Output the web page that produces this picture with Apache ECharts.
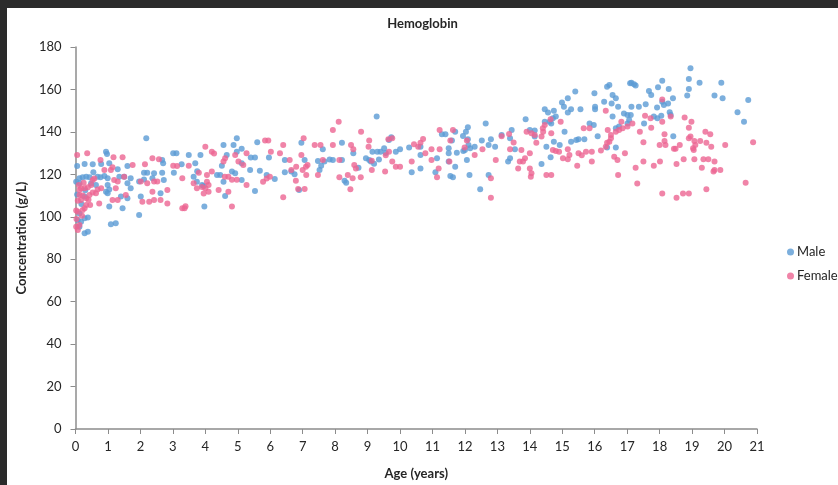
<!DOCTYPE html>
<html>
<head>
<meta charset="utf-8">
<script src="https://cdn.jsdelivr.net/npm/echarts@6/dist/echarts.min.js"></script>
<style>
  html, body { margin: 0; padding: 0; background: #2b2b2b; width: 838px; height: 485px; overflow: hidden; }
  #chart { position: absolute; left: 7px; top: 8px; width: 831px; height: 477px; background: #ffffff; }
</style>
</head>
<body>
<div id="chart"></div>
<script>
// Hemoglobin concentration (g/L) by age (years)
const malePoints = [
  [0.94,130.7],[0.97,129.6],[2.18,137.0],[2.67,126.8],[2.70,125.2],[3.01,129.9],[3.11,129.9],[3.27,124.7],
  [0.05,123.9],[0.28,124.9],[0.53,124.7],[0.79,124.9],[1.04,125.2],[1.30,122.4],[1.60,123.9],[2.11,120.8],
  [2.21,120.8],[2.42,120.5],[2.67,120.8],[3.03,120.8],[0.12,118.1],[0.22,118.6],[0.33,118.9],[0.43,118.6],
  [0.68,118.9],[0.77,118.6],[0.89,119.2],[0.99,118.1],[1.35,118.9],[1.50,118.9],[1.70,118.1],[1.96,116.6],
  [2.11,117.6],[2.37,118.1],[2.72,117.3],[0.12,115.8],[0.48,115.8],[0.63,115.0],[0.99,115.0],[1.04,112.9],
  [1.60,115.8],[1.70,113.4],[2.62,111.1],[0.94,111.8],[0.28,109.5],[0.99,111.1],[1.40,109.5],[1.60,108.7],
  [2.01,109.5],[1.04,104.8],[1.45,104.0],[0.12,101.6],[1.96,100.8],[1.09,96.5],[1.24,96.9],[0.07,98.5],
  [0.17,97.7],[0.28,99.3],[0.38,99.7],[0.12,95.3],[0.28,92.2],[0.38,93.0],[0.05,110.5],[0.18,106.0],
  [0.30,112.5],[0.02,116.5],[0.55,121.0],
  [4.97,137.0],[4.56,133.8],[4.87,133.8],[5.60,135.1],[3.49,129.1],[3.85,129.1],[4.66,129.1],[4.97,130.7],
  [5.12,132.0],[5.40,127.9],[5.53,127.9],[5.96,127.9],[6.45,126.8],[3.69,125.2],[3.75,121.5],[4.51,124.0],
  [5.12,125.2],[5.38,122.0],[5.68,121.7],[4.82,121.3],[4.92,120.5],[4.36,119.7],[4.46,119.7],[5.89,119.7],
  [6.14,117.8],[6.45,121.0],[6.65,121.3],[3.64,118.9],[3.74,116.5],[4.56,116.5],[5.12,117.3],[3.90,115.0],
  [3.95,114.5],[5.53,112.2],[4.61,109.8],[3.97,104.8],
  [9.28,147.2],[8.21,134.9],[6.96,134.9],[8.56,129.9],[7.62,131.8],[7.47,126.3],[7.67,126.0],[7.83,127.0],
  [7.93,126.8],[8.21,126.8],[7.06,126.8],[7.57,124.0],[7.52,122.0],[8.95,127.6],[9.05,126.8],[9.15,130.7],
  [9.30,130.7],[9.40,130.7],[9.51,132.3],[9.56,130.0],[9.66,136.2],[9.73,137.5],[9.87,130.7],[10.00,131.8],
  [9.10,126.0],[9.20,125.0],[9.35,127.0],[8.72,123.1],[8.29,117.0],[8.34,116.0],[6.89,112.6],[6.75,120.0],
  [12.64,144.0],[12.09,142.2],[12.03,140.1],[11.94,138.1],[11.29,138.9],[11.40,138.9],[11.70,140.1],[11.60,135.9],
  [12.09,136.5],[12.52,135.9],[12.80,136.5],[13.13,138.5],[13.39,137.0],[10.28,132.7],[10.63,133.0],[11.50,132.3],
  [12.11,133.8],[12.16,132.3],[12.30,133.0],[12.73,133.8],[12.93,133.0],[12.00,131.5],[11.95,131.0],[11.75,130.2],
  [11.50,129.9],[11.14,127.6],[10.63,129.1],[12.06,126.8],[11.50,126.0],[13.33,126.0],[13.39,127.6],[10.63,122.8],
  [11.70,123.6],[10.36,121.0],[11.09,121.0],[11.55,119.2],[11.63,118.6],[12.14,119.7],[12.73,119.7],[12.47,113.0],
  [16.38,161.3],[16.45,162.1],[17.09,162.9],[15.40,159.0],[15.99,158.2],[16.55,157.4],[16.65,155.8],[15.17,155.8],
  [14.99,153.8],[15.05,151.9],[16.29,154.2],[16.01,151.9],[16.01,150.7],[16.72,151.9],[14.46,150.7],[14.56,149.1],
  [14.74,150.0],[15.27,150.7],[15.17,149.1],[15.56,150.7],[16.52,153.4],[16.90,148.7],[17.01,148.0],[13.87,146.0],
  [14.46,144.8],[14.61,144.8],[14.71,146.4],[14.80,147.2],[16.55,147.2],[15.84,144.0],[15.97,143.3],[17.06,145.6],
  [17.01,144.0],[16.65,141.7],[16.75,142.5],[14.15,140.6],[14.00,140.9],[13.44,140.9],[14.66,144.0],[15.07,140.1],
  [16.09,138.0],[15.50,136.5],[15.43,136.2],[15.27,135.4],[15.68,136.5],[14.74,135.4],[14.15,137.8],[14.51,133.0],
  [14.92,133.8],[16.38,132.7],[16.65,132.7],[13.54,131.8],[14.64,128.0],[14.36,124.9],
  [18.95,170.0],[18.90,164.9],[19.23,163.2],[19.90,163.2],[18.08,164.1],[17.13,163.2],[17.21,162.4],[17.26,161.8],
  [17.67,159.3],[17.74,157.4],[17.95,161.0],[18.28,160.2],[18.90,160.2],[18.85,157.1],[19.69,157.1],[19.94,155.8],
  [20.73,155.0],[18.41,155.8],[18.08,154.2],[17.92,151.5],[18.13,152.7],[18.26,153.4],[17.57,153.0],[17.36,151.9],
  [17.13,151.9],[20.40,149.2],[20.60,144.8],[18.31,149.2],[18.34,148.0],[18.05,147.6],[17.93,146.4],[17.82,147.2],
  [17.52,144.0],[17.11,148.0],[18.42,138.0]
];

const femalePoints = [
  [0.05,129.1],[0.36,129.9],[0.77,126.8],[1.17,128.0],[1.45,128.0],[2.37,127.6],[2.57,127.1],[3.01,124.1],
  [3.13,123.9],[0.89,122.1],[1.14,123.3],[1.09,122.1],[1.76,124.4],[2.14,124.7],[3.29,118.1],[0.53,117.3],
  [1.19,117.3],[1.30,116.6],[1.50,118.9],[2.01,116.6],[2.21,115.8],[2.42,116.6],[2.52,116.6],[0.12,112.6],
  [0.17,113.4],[0.28,113.4],[0.38,113.9],[0.48,115.0],[0.68,112.9],[0.79,113.4],[1.24,113.4],[1.55,110.3],
  [2.83,112.6],[2.37,111.8],[0.12,110.3],[0.17,107.9],[0.07,107.6],[0.33,108.7],[0.43,110.3],[0.53,111.4],
  [0.63,111.1],[0.73,106.3],[1.14,107.9],[1.30,107.9],[2.06,107.1],[2.27,107.1],[2.42,107.9],[2.62,107.9],
  [2.83,106.3],[3.29,104.0],[0.07,102.4],[0.22,103.2],[0.28,104.0],[0.33,105.6],[0.12,96.1],[0.02,95.3],
  [0.07,93.8],[0.02,103.0],[0.10,115.0],[0.22,110.0],[0.25,116.0],[0.40,108.0],[0.45,105.5],[0.03,99.0],
  [0.58,118.0],[0.20,100.5],
  [5.84,135.9],[5.94,135.9],[6.40,133.8],[4.00,133.0],[4.20,130.7],[4.27,129.8],[4.61,127.6],[4.56,126.0],
  [4.92,129.1],[5.27,129.9],[5.02,126.0],[5.17,124.4],[6.02,130.7],[6.30,129.9],[6.60,126.8],[3.49,124.0],
  [3.80,120.8],[4.05,119.7],[4.20,121.3],[4.71,118.9],[4.82,117.5],[4.97,117.5],[4.60,118.9],[4.05,116.5],
  [4.10,115.0],[3.90,114.0],[4.00,113.5],[4.10,111.8],[3.95,111.0],[4.41,112.6],[4.71,111.8],[5.27,115.0],
  [5.78,116.5],[5.89,118.0],[5.99,118.9],[6.65,122.0],[6.40,109.2],[4.82,104.8],[3.39,105.0],[3.36,104.0],
  [3.64,115.8],[3.74,113.5],
  [8.11,144.8],[7.93,140.9],[8.80,140.1],[7.03,137.0],[7.37,133.8],[7.55,133.8],[7.93,133.8],[8.49,133.8],
  [8.56,131.8],[9.05,135.9],[9.03,133.0],[9.64,136.5],[9.76,137.0],[6.96,129.1],[7.62,126.8],[8.13,126.8],
  [8.59,124.4],[8.64,122.8],[9.13,126.4],[9.56,129.0],[9.66,130.7],[9.76,126.0],[9.87,123.6],[10.00,123.6],
  [6.80,123.6],[7.00,122.0],[7.10,123.6],[7.15,124.4],[7.11,119.7],[6.79,117.0],[7.47,119.7],[8.13,118.6],
  [8.39,119.7],[8.54,118.1],[8.79,118.6],[9.13,122.0],[9.54,121.3],[6.86,113.1],[7.06,113.1],[8.47,113.0],
  [11.22,140.9],[11.63,140.9],[11.55,135.9],[12.06,135.9],[13.13,138.0],[13.36,139.0],[13.50,135.0],[10.71,136.7],
  [10.63,134.9],[10.56,133.0],[10.43,134.2],[10.78,129.9],[10.97,131.8],[11.22,131.8],[11.99,132.7],[12.30,129.1],
  [12.54,131.8],[13.39,131.8],[10.36,126.0],[10.97,126.8],[11.52,126.0],[11.19,122.8],[11.14,118.6],[12.95,126.8],
  [12.80,118.1],[12.80,109.0],
  [16.34,150.0],[14.95,144.8],[14.64,146.0],[14.46,143.3],[14.40,141.7],[14.41,140.1],[14.66,139.3],[13.90,140.1],
  [14.05,139.3],[14.15,138.5],[14.36,137.8],[15.66,141.7],[15.84,141.7],[16.40,140.9],[16.50,138.5],[16.38,134.9],
  [16.82,144.8],[16.65,140.1],[16.75,140.9],[16.86,141.7],[17.01,142.5],[14.20,134.9],[13.74,131.5],[14.00,129.9],
  [13.85,127.6],[13.69,126.0],[13.79,126.0],[13.64,122.8],[14.00,122.8],[14.05,120.5],[14.03,118.9],[14.51,119.7],
  [14.66,119.7],[14.71,131.5],[14.80,131.0],[14.90,130.7],[15.02,127.6],[15.17,131.8],[15.22,129.1],[15.17,127.1],
  [15.50,129.9],[15.60,129.0],[15.73,130.7],[15.91,130.7],[15.46,124.0],[15.91,126.0],[16.19,131.2],[16.34,133.0],
  [16.45,135.4],[16.50,137.0],[16.60,128.3],[16.70,126.8],[16.93,129.9],[16.72,119.7],
  [18.08,155.3],[17.55,147.6],[17.72,146.4],[18.77,146.8],[18.34,147.2],[18.08,144.8],[18.98,144.8],[17.16,144.0],
  [18.90,142.0],[17.74,142.0],[17.39,140.1],[18.15,138.9],[18.95,137.8],[18.90,137.0],[19.41,140.1],[19.56,138.9],
  [18.15,135.7],[18.18,133.8],[19.07,135.7],[19.10,133.8],[19.25,135.7],[19.44,134.9],[19.59,133.0],[20.02,133.8],
  [20.88,135.1],[19.03,132.3],[19.05,131.5],[18.00,133.8],[18.44,132.0],[18.49,132.0],[18.62,133.8],[17.50,135.1],
  [17.50,126.0],[17.82,124.1],[18.01,126.0],[18.52,124.9],[18.74,127.1],[19.07,127.1],[19.35,127.1],[19.50,127.1],
  [19.69,126.0],[19.30,123.1],[19.69,122.0],[19.66,121.3],[19.87,122.0],[17.26,123.1],[17.31,115.7],[18.08,111.0],
  [18.72,111.0],[18.90,111.0],[18.52,109.0],[19.44,113.0],[20.65,116.0]
];

const seriesNames = ['Male', 'Female'];
const seriesColors = ['#5b9bd5', '#ec6592'];

const fontFamily = 'Lato, "Open Sans", "Liberation Sans", sans-serif';
const axisGray = '#8c8c8c';
const textDark = '#262626';

const chart = echarts.init(document.getElementById('chart'), null, { renderer: 'canvas' });

chart.setOption({
  animation: false,
  backgroundColor: '#ffffff',
  title: {
    text: 'Hemoglobin',
    left: 'center',
    top: 4,
    textStyle: { fontFamily, fontSize: 13, fontWeight: 'bold', color: textDark }
  },
  legend: {
    orient: 'vertical',
    left: 775,
    top: 232,
    itemWidth: 7,
    itemHeight: 7,
    itemGap: 10,
    icon: 'circle',
    data: seriesNames,
    textStyle: { fontFamily, fontSize: 13, color: textDark, lineHeight: 14, padding: [0, 0, 0, -2] }
  },
  grid: { left: 64, top: 39, right: 81, bottom: 56, containLabel: false },
  xAxis: {
    type: 'value',
    min: 0,
    max: 21,
    interval: 1,
    name: 'Age (years)',
    nameLocation: 'middle',
    nameGap: 38,
    nameTextStyle: { fontFamily, fontSize: 13, fontWeight: 'bold', color: textDark },
    axisLine: { show: true, onZero: false, lineStyle: { color: axisGray, width: 1.5 } },
    axisTick: { show: true, length: 5, lineStyle: { color: axisGray, width: 1 } },
    axisLabel: { fontFamily, fontSize: 13, color: textDark, margin: 11 },
    splitLine: { show: false }
  },
  yAxis: {
    type: 'value',
    min: 0,
    max: 180,
    interval: 20,
    name: 'Concentration (g/L)',
    nameLocation: 'middle',
    nameGap: 45,
    nameTextStyle: { fontFamily, fontSize: 13, fontWeight: 'bold', color: textDark },
    axisLine: { show: true, onZero: false, lineStyle: { color: axisGray, width: 1.5 } },
    axisTick: { show: true, length: 5, lineStyle: { color: axisGray, width: 1 } },
    axisLabel: { fontFamily, fontSize: 13, color: textDark, margin: 14 },
    splitLine: { show: false }
  },
  series: [
    {
      name: seriesNames[0],
      type: 'scatter',
      data: malePoints,
      symbol: 'circle',
      symbolSize: 6,
      itemStyle: { color: seriesColors[0] }
    },
    {
      name: seriesNames[1],
      type: 'scatter',
      data: femalePoints,
      symbol: 'circle',
      symbolSize: 6,
      itemStyle: { color: seriesColors[1] }
    }
  ]
});
</script>
</body>
</html>
